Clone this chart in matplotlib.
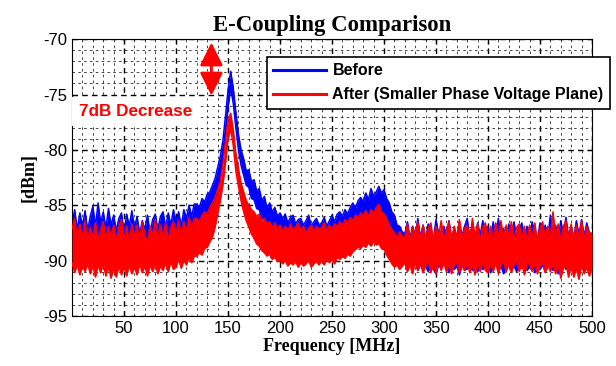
import matplotlib
matplotlib.use('Agg')
import matplotlib.pyplot as plt
import numpy as np
from matplotlib.ticker import MultipleLocator

plt.rcParams['axes.unicode_minus'] = False

before_hi = [
    -86.8, -85.4, -87.2, -85.7, -86.9, -85.5, -87.3, -86.0,
    -85.1, -86.9, -84.8, -86.6, -85.6, -87.1, -85.3, -86.8,
    -85.9, -87.3, -86.2, -85.7, -87.4, -85.8, -86.9, -85.5,
    -87.1, -86.0, -87.6, -86.4, -87.2, -85.9, -87.5, -86.3,
    -85.8, -87.2, -86.0, -85.6, -87.0, -85.7, -86.8, -85.4,
    -86.5, -85.6, -86.9, -85.4, -86.2, -85.0, -86.0, -84.9,
    -84.9, -85.2, -84.4, -84.7, -84.0, -83.8, -83.2, -82.6,
    -81.6, -80.6, -79.2, -77.0, -74.6, -72.9, -74.4, -76.6,
    -78.6, -80.0, -80.8, -81.9, -81.8, -82.9, -82.7, -83.7,
    -83.5, -84.6, -84.2, -85.3, -84.8, -85.6, -85.2, -86.0,
    -85.7, -86.2, -85.8, -86.6, -86.1, -85.9, -86.7, -86.3,
    -86.2, -86.8, -86.4, -85.9, -86.9, -86.5, -86.2, -86.8,
    -86.6, -86.1, -86.9, -86.4, -85.9, -86.5, -85.8, -85.6,
    -86.0, -85.4, -85.8, -85.2, -84.8, -85.3, -84.6, -84.3,
    -84.7, -83.9, -84.5, -83.5, -84.2, -83.8, -83.3, -83.9,
    -83.6, -84.4, -84.8, -85.6, -85.9, -86.8, -86.9, -87.4,
    -87.6, -86.5, -88.0, -86.9, -87.8, -86.2, -87.9, -86.8,
    -88.1, -86.7, -87.5, -88.2, -86.3, -87.6, -88.0, -86.9,
    -87.7, -86.4, -88.1, -87.0, -88.3, -86.5, -87.8, -86.9,
    -86.2, -87.9, -86.8, -88.2, -86.6, -87.7, -86.4, -87.9,
    -86.9, -88.1, -86.5, -87.8, -86.2, -87.9, -87.1, -88.2,
    -86.7, -87.9, -86.5, -88.0, -87.2, -86.6, -88.1, -86.9,
    -87.8, -86.5, -87.6, -88.2, -86.6, -87.9, -86.8, -88.0,
    -85.9, -87.7, -86.8, -88.1, -86.4, -87.6, -86.1, -87.9,
    -86.9, -88.0, -86.4, -87.7, -86.3, -87.8, -86.6, -87.5,
    -87.6,
]
before_lo = [
    -89.4, -89.9, -89.1, -90.2, -89.6, -88.9, -89.8, -89.3,
    -89.0, -89.6, -88.8, -89.3, -89.7, -88.9, -89.2, -89.5,
    -89.1, -88.7, -89.4, -89.0, -88.8, -89.3, -88.9, -89.2,
    -89.4, -88.9, -89.6, -89.1, -89.3, -88.8, -89.5, -89.0,
    -88.8, -89.2, -88.6, -89.0, -88.5, -88.9, -88.4, -88.7,
    -88.6, -88.2, -88.5, -88.0, -88.3, -87.8, -88.1, -87.6,
    -87.5, -87.1, -87.0, -86.6, -86.3, -85.9, -85.4, -84.6,
    -83.6, -82.4, -80.8, -78.6, -76.2, -74.4, -75.8, -78.0,
    -80.0, -81.4, -82.3, -83.2, -83.4, -84.4, -84.5, -85.3,
    -85.4, -86.2, -86.1, -86.8, -86.9, -87.3, -87.5, -87.6,
    -87.9, -88.2, -88.0, -88.6, -88.3, -88.9, -88.5, -88.8,
    -88.6, -89.0, -88.7, -88.4, -89.1, -88.8, -88.5, -89.0,
    -88.7, -88.9, -88.4, -88.8, -88.2, -88.6, -88.1, -88.3,
    -88.0, -88.4, -87.8, -87.9, -87.4, -87.6, -87.0, -87.3,
    -86.8, -87.1, -86.5, -86.9, -86.4, -86.7, -86.3, -86.6,
    -86.5, -87.0, -87.3, -88.0, -88.4, -89.0, -89.3, -89.8,
    -90.1, -90.5, -89.8, -90.7, -90.2, -90.9, -90.4, -90.6,
    -90.3, -91.0, -90.5, -90.8, -91.2, -90.4, -90.7, -90.2,
    -90.6, -91.1, -90.3, -90.8, -90.5, -91.3, -90.4, -90.9,
    -90.7, -90.2, -90.9, -90.5, -91.0, -90.3, -90.8, -90.6,
    -90.4, -91.1, -90.6, -90.2, -90.9, -90.5, -91.2, -90.7,
    -90.3, -90.8, -90.5, -91.0, -90.4, -90.7, -90.2, -90.9,
    -90.6, -90.3, -91.1, -90.5, -90.8, -90.4, -91.0, -90.6,
    -90.2, -90.9, -90.5, -91.2, -90.6, -90.3, -90.8, -90.5,
    -90.9, -90.4, -90.7, -91.0, -90.3, -90.8, -90.5, -90.9,
    -90.4,
]
after_hi = [
    -87.1, -86.2, -88.0, -86.7, -87.9, -86.4, -88.2, -87.0,
    -87.9, -86.6, -88.1, -87.2, -86.5, -88.0, -86.9, -87.8,
    -86.8, -88.2, -87.0, -86.3, -88.1, -86.9, -88.3, -86.7,
    -87.9, -86.8, -88.2, -86.5, -87.7, -88.3, -86.9, -87.8,
    -86.3, -88.0, -86.8, -87.9, -86.6, -88.1, -87.0, -86.5,
    -87.6, -86.4, -87.8, -86.5, -87.3, -86.1, -87.0, -86.2,
    -86.2, -86.5, -85.9, -85.6, -85.8, -85.2, -84.8, -84.3,
    -83.6, -82.9, -81.4, -79.3, -77.3, -76.7, -78.2, -80.3,
    -81.7, -83.0, -83.8, -84.6, -85.0, -85.4, -85.6, -86.0,
    -85.8, -86.4, -86.2, -86.7, -86.5, -87.0, -86.6, -87.1,
    -86.8, -87.3, -86.9, -87.4, -86.7, -87.2, -87.0, -86.6,
    -87.3, -86.9, -87.5, -87.1, -86.8, -87.4, -86.9, -87.2,
    -87.0, -86.6, -87.3, -86.8, -87.2, -86.7, -86.9, -86.5,
    -86.8, -86.3, -86.6, -86.1, -86.4, -85.9, -86.2, -85.7,
    -85.9, -85.5, -86.0, -85.4, -85.8, -85.2, -84.9, -85.6,
    -85.8, -86.2, -86.8, -87.2, -87.5, -87.9, -87.4, -87.8,
    -87.9, -86.7, -88.3, -87.0, -87.6, -86.5, -88.1, -86.8,
    -88.0, -87.1, -86.6, -88.2, -86.9, -87.8, -86.4, -88.1,
    -87.2, -86.5, -88.2, -86.9, -87.9, -86.3, -88.0, -87.1,
    -86.8, -88.1, -86.2, -87.8, -86.7, -88.2, -87.0, -86.6,
    -88.0, -86.9, -88.3, -86.6, -87.9, -86.4, -88.1, -86.8,
    -87.8, -86.5, -88.2, -87.0, -86.7, -88.1, -86.9, -88.2,
    -86.8, -88.0, -86.6, -88.3, -87.1, -86.5, -88.0, -86.9,
    -88.1, -85.6, -87.8, -86.7, -88.2, -86.9, -86.4, -88.0,
    -86.7, -88.2, -86.8, -87.9, -86.4, -88.1, -86.9, -87.6,
    -87.5,
]
after_lo = [
    -90.2, -91.1, -90.4, -91.3, -90.5, -91.0, -90.3, -91.2,
    -90.5, -91.5, -90.4, -91.1, -90.3, -91.4, -90.6, -91.6,
    -90.7, -91.5, -90.5, -91.3, -90.6, -91.4, -90.4, -91.2,
    -90.6, -91.3, -90.3, -91.1, -90.5, -91.4, -90.4, -91.0,
    -90.3, -91.2, -90.5, -90.9, -90.2, -91.0, -90.1, -90.8,
    -90.6, -89.9, -90.7, -90.0, -90.4, -89.7, -90.2, -89.6,
    -89.6, -89.3, -89.5, -88.9, -88.8, -88.3, -87.9, -87.0,
    -85.8, -84.6, -83.2, -81.2, -79.0, -78.1, -79.6, -81.9,
    -83.3, -84.6, -85.6, -86.4, -87.0, -87.6, -88.0, -88.5,
    -88.7, -89.1, -89.3, -89.6, -89.4, -89.9, -89.7, -90.1,
    -89.9, -90.3, -90.0, -90.5, -90.2, -90.4, -90.1, -90.6,
    -90.2, -90.5, -90.3, -90.0, -90.6, -90.3, -90.1, -90.4,
    -90.0, -90.4, -89.8, -90.2, -89.9, -90.3, -89.7, -89.9,
    -89.6, -89.8, -89.4, -89.6, -89.2, -89.0, -88.8, -88.9,
    -88.6, -88.8, -88.4, -88.7, -88.3, -88.6, -88.5, -88.9,
    -89.0, -89.5, -89.9, -90.3, -90.6, -90.4, -90.8, -90.5,
    -90.2, -91.0, -90.4, -91.2, -90.1, -90.9, -90.3, -91.1,
    -90.5, -90.0, -91.1, -90.3, -91.2, -90.1, -90.9, -90.2,
    -91.0, -90.3, -91.2, -90.4, -90.1, -91.1, -90.3, -90.9,
    -90.2, -91.1, -90.4, -91.3, -90.2, -91.0, -90.1, -90.9,
    -91.1, -90.3, -91.0, -90.2, -91.2, -90.4, -90.1, -91.0,
    -90.3, -91.1, -90.4, -90.0, -91.0, -90.3, -91.3, -90.4,
    -90.2, -91.0, -90.3, -91.2, -90.5, -90.1, -91.1, -90.4,
    -91.0, -90.3, -91.2, -90.4, -91.6, -90.7, -90.3, -91.5,
    -90.5, -91.5, -90.7, -91.7, -90.4, -91.2, -90.6, -91.4,
    -90.7,
]
freq = np.linspace(0, 500, len(before_hi))
xticks = [50, 100, 150, 200, 250, 300, 350, 400, 450, 500]
yticks = [-95, -90, -85, -80, -75, -70]

fig = plt.figure(figsize=(6.16, 3.66), dpi=100)
ax = fig.add_axes([0.117, 0.137, 0.844, 0.756])

ax.fill_between(freq, before_lo, before_hi, color='#0000ff', lw=0, zorder=2)
ax.plot(freq, before_hi, color='#0000ff', lw=1.1, zorder=2, label='Before')
ax.plot(freq, before_lo, color='#0000ff', lw=1.1, zorder=2)
ax.fill_between(freq, after_lo, after_hi, color='#ff0000', lw=0, zorder=3)
ax.plot(freq, after_hi, color='#ff0000', lw=1.1, zorder=3, label='After (Smaller Phase Voltage Plane)')
ax.plot(freq, after_lo, color='#ff0000', lw=1.1, zorder=3)

ax.set_xlim(0, 500)
ax.set_ylim(-95, -70)
ax.set_xticks(xticks)
ax.set_yticks(yticks)
ax.xaxis.set_minor_locator(MultipleLocator(10))
ax.yaxis.set_minor_locator(MultipleLocator(1))
ax.tick_params(which='both', direction='in', top=True, right=True, labelsize=12)
ax.tick_params(which='minor', length=0)
ax.grid(which='major', color='black', ls=(0, (4, 3)), lw=1.0)
ax.grid(which='minor', color='#222222', ls=(0, (3, 4)), lw=0.6)
for lab in ax.get_xticklabels() + ax.get_yticklabels():
    lab.set_family('Liberation Sans')

ax.set_title('E-Coupling Comparison', family='Liberation Serif', weight='bold', fontsize=16.4, pad=6)
ax.set_xlabel('Frequency [MHz]', family='Liberation Serif', weight='bold', fontsize=13, labelpad=2)
ax.set_ylabel('[dBm]', family='Liberation Serif', weight='bold', fontsize=13, labelpad=4)

ax.text(61, -76.5, '7dB Decrease', color='#ff0000', fontsize=12.3, weight='bold',
        family='Liberation Sans', ha='center', va='center', zorder=5,
        bbox=dict(facecolor='white', edgecolor='none', pad=5))
ax.annotate('', xy=(134, -70.3), xytext=(134, -75.1),
            arrowprops=dict(arrowstyle='<|-|>,head_length=0.7,head_width=0.35',
                            color='#ff0000', lw=2, mutation_scale=20, shrinkA=0, shrinkB=0),
            zorder=5)

leg = ax.legend(loc='upper left', bbox_to_anchor=(267 / 616, 1 - 57 / 366), bbox_transform=fig.transFigure,
                prop={'family': 'Liberation Sans', 'weight': 'bold', 'size': 11.5},
                fancybox=False, framealpha=1, edgecolor='black', handlelength=3.3,
                handletextpad=0.4, borderpad=0.4, labelspacing=0.55, borderaxespad=0)
leg.set_zorder(6)
leg.get_frame().set_linewidth(1.2)
for line in leg.get_lines():
    line.set_linewidth(2.2)

fig.savefig('out.png', dpi=100)
